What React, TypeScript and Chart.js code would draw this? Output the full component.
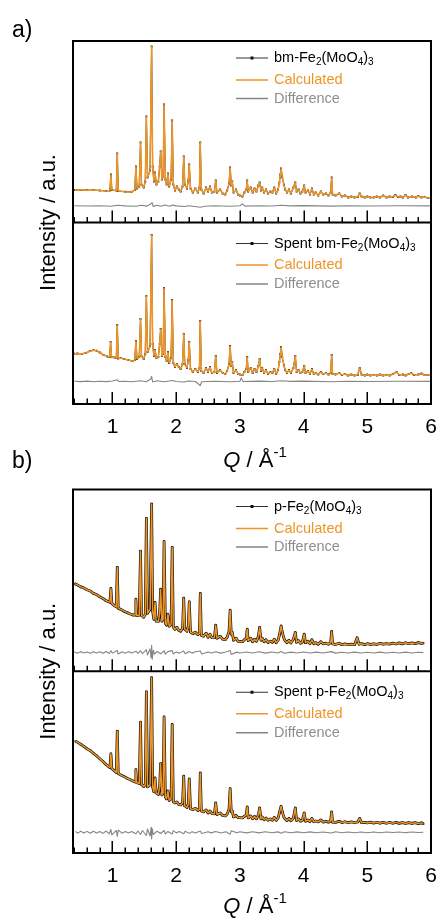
import React, { useEffect, useRef } from "react";
import { Chart, registerables } from "chart.js";

Chart.register(...registerables);

const FONT = '"Liberation Sans", Arial, Helvetica, sans-serif';

// ---- axis values ----
const Q_MIN = 0.38;
const Q_MAX = 6.0;
const majorQ = [1, 2, 3, 4, 5, 6];
const minorQ = [0.4, 0.6, 0.8, 1.2, 1.4, 1.6, 1.8, 2.2, 2.4, 2.6, 2.8, 3.2, 3.4, 3.6, 3.8, 4.2, 4.4, 4.6, 4.8, 5.2, 5.4, 5.6, 5.8];
const INT_MAX = 181.5;

// ---- legend labels (_n = subscript) ----
const labelBm = "bm-Fe_2(MoO_4)_3";
const labelSpentBm = "Spent bm-Fe_2(MoO_4)_3";
const labelP = "p-Fe_2(MoO_4)_3";
const labelSpentP = "Spent p-Fe_2(MoO_4)_3";
const labelCalc = "Calculated";
const labelDiff = "Difference";

// ---- a) bm-Fe2(MoO4)3 : observed [Q, I] ----
const obsBm: number[][] = [
  [0.40, 32.5], [0.50, 32.7], [0.60, 32.3], [0.70, 32.5], [0.80, 32.0], [0.90, 31.6], [0.96, 32.0], [0.975, 48], [0.99, 32.5],
  [1.06, 32.0], [1.075, 69], [1.09, 31.5], [1.20, 30.8], [1.30, 30.6], [1.35, 32.5], [1.367, 56], [1.385, 34], [1.42, 36],
  [1.44, 80], [1.455, 38], [1.49, 35], [1.515, 41], [1.532, 106], [1.55, 45], [1.59, 52], [1.614, 176], [1.63, 56], [1.65, 41],
  [1.668, 50], [1.69, 38], [1.72, 41], [1.74, 56], [1.756, 71], [1.775, 43], [1.795, 46], [1.81, 118], [1.83, 43], [1.85, 38],
  [1.87, 49], [1.89, 36], [1.92, 43], [1.937, 102], [1.955, 38], [1.98, 32], [2.01, 36], [2.04, 33], [2.07, 31], [2.10, 36],
  [2.118, 66], [2.135, 38], [2.17, 34], [2.19, 42], [2.205, 58], [2.225, 34], [2.26, 30], [2.30, 34], [2.34, 30], [2.365, 35],
  [2.378, 80], [2.395, 33], [2.43, 29], [2.47, 35], [2.50, 31], [2.53, 36], [2.56, 30], [2.60, 31], [2.62, 42], [2.64, 30],
  [2.69, 33], [2.73, 29], [2.77, 28], [2.80, 32], [2.83, 39], [2.847, 55], [2.865, 37], [2.88, 41], [2.90, 30], [2.94, 33],
  [2.97, 28], [3.00, 27], [3.04, 26], [3.07, 30], [3.10, 33], [3.115, 42], [3.13, 31], [3.17, 35], [3.20, 30], [3.23, 34],
  [3.26, 31], [3.29, 37], [3.31, 40], [3.33, 32], [3.35, 35], [3.38, 30], [3.41, 33], [3.44, 29], [3.48, 31], [3.51, 30],
  [3.54, 35], [3.57, 29], [3.60, 33], [3.62, 40], [3.635, 48], [3.647, 54], [3.665, 45], [3.69, 38], [3.71, 33], [3.74, 30],
  [3.77, 33], [3.80, 29], [3.84, 35], [3.87, 40], [3.89, 31], [3.92, 33], [3.95, 29], [3.98, 31], [4.01, 37], [4.03, 30],
  [4.07, 32], [4.10, 28], [4.13, 34], [4.16, 28], [4.19, 30], [4.23, 27], [4.27, 31], [4.31, 28], [4.35, 29], [4.39, 27],
  [4.425, 30], [4.44, 45], [4.455, 28], [4.50, 27], [4.56, 29], [4.60, 26], [4.65, 27], [4.70, 25], [4.75, 26], [4.80, 25],
  [4.85, 25.5], [4.88, 29], [4.91, 26], [4.96, 25], [5.00, 26], [5.05, 25], [5.10, 25], [5.15, 26], [5.20, 25], [5.25, 27],
  [5.30, 25], [5.35, 26], [5.40, 25.5], [5.44, 27.5], [5.48, 25.5], [5.52, 26], [5.56, 25], [5.60, 27.5], [5.64, 25], [5.70, 26],
  [5.76, 25], [5.80, 26.5], [5.85, 25], [5.90, 25.5], [5.95, 24.5], [6.00, 25],
];
const calcBm = obsBm;
const diffBm: number[][] = [
  [0.40, 16.7], [0.6, 16.5], [0.8, 16.8], [0.97, 16.3], [1.08, 17.2], [1.2, 16.6], [1.37, 16.2], [1.45, 17.3], [1.54, 16.4],
  [1.6, 18.5], [1.62, 20.0], [1.64, 16], [1.7, 17.3], [1.76, 16.2], [1.82, 17.5], [1.9, 16.3], [1.94, 17.4], [2.0, 16.6],
  [2.13, 16.0], [2.2, 16.8], [2.38, 15.3], [2.45, 16.3], [2.6, 16.8], [2.85, 16.2], [3.0, 16.7], [3.04, 18.5], [3.08, 16.4],
  [3.3, 16.8], [3.5, 16.5], [3.65, 17.3], [3.8, 16.6], [4.0, 16.9], [4.45, 16.4], [4.7, 16.7], [5.0, 16.5], [5.5, 16.8], [6.0, 16.6],
];

// ---- a) Spent bm-Fe2(MoO4)3 ----
const obsSpentBm: number[][] = [
  [0.40, 50.3], [0.45, 50.5], [0.52, 50.2], [0.58, 51], [0.64, 52.8], [0.70, 53.8], [0.75, 53.3], [0.80, 51.5], [0.86, 49],
  [0.92, 47.5], [0.955, 47], [0.97, 62], [0.985, 47], [1.03, 46.5], [1.06, 46], [1.075, 79], [1.09, 45.5], [1.13, 46],
  [1.18, 45], [1.25, 44], [1.32, 42.8], [1.35, 44], [1.367, 63], [1.385, 45], [1.42, 47], [1.44, 85], [1.455, 48], [1.49, 45],
  [1.515, 50], [1.532, 108], [1.55, 52], [1.59, 58], [1.614, 169], [1.63, 60], [1.65, 48], [1.668, 54], [1.69, 46], [1.72, 47],
  [1.74, 60], [1.756, 75], [1.775, 48], [1.795, 50], [1.81, 116], [1.83, 47], [1.85, 43], [1.87, 52], [1.89, 41], [1.92, 46],
  [1.937, 104], [1.955, 41], [1.98, 37], [2.01, 40], [2.04, 37], [2.07, 35], [2.10, 40], [2.118, 70], [2.135, 40], [2.17, 36],
  [2.19, 44], [2.205, 62], [2.225, 35], [2.26, 32], [2.30, 35], [2.34, 32], [2.365, 36], [2.378, 83], [2.395, 33], [2.43, 31],
  [2.47, 36], [2.50, 32], [2.53, 37], [2.56, 31], [2.60, 32], [2.62, 48], [2.64, 31], [2.69, 34], [2.73, 31], [2.77, 30],
  [2.80, 33], [2.83, 40], [2.847, 58], [2.865, 38], [2.88, 42], [2.90, 31], [2.94, 34], [2.97, 30], [3.00, 29.5], [3.04, 29],
  [3.07, 32], [3.10, 35], [3.115, 47], [3.13, 32], [3.17, 36], [3.20, 31], [3.23, 35], [3.26, 32], [3.29, 38], [3.31, 45],
  [3.33, 33], [3.35, 36], [3.38, 31], [3.41, 34], [3.44, 30], [3.48, 32], [3.51, 31], [3.54, 35], [3.57, 30], [3.60, 34],
  [3.62, 42], [3.635, 50], [3.647, 57], [3.665, 47], [3.69, 39], [3.71, 34], [3.74, 31], [3.77, 34], [3.80, 31], [3.84, 36],
  [3.87, 48], [3.89, 32], [3.92, 34], [3.95, 31], [3.98, 32], [4.01, 38], [4.03, 31], [4.07, 33], [4.10, 30], [4.13, 35],
  [4.16, 30], [4.19, 31], [4.23, 29.5], [4.27, 32], [4.31, 30], [4.35, 31], [4.39, 29.5], [4.425, 31], [4.44, 49], [4.455, 30],
  [4.50, 29.5], [4.56, 31], [4.60, 29], [4.65, 30], [4.70, 28.5], [4.75, 29.5], [4.80, 28.5], [4.85, 29], [4.88, 36], [4.91, 29.5],
  [4.96, 28.5], [5.00, 29.5], [5.05, 28.5], [5.10, 29], [5.15, 28.5], [5.20, 29.5], [5.25, 28.5], [5.30, 29], [5.35, 28.5],
  [5.40, 30], [5.46, 32], [5.50, 29], [5.56, 29.5], [5.60, 28.5], [5.65, 30], [5.69, 31], [5.73, 29], [5.80, 29.5], [5.85, 30.5],
  [5.90, 28.8], [5.95, 29.2], [6.00, 28.7],
];
const calcSpentBm = obsSpentBm;
const diffSpentBm: number[][] = [
  [0.40, 22.7], [0.5, 22.4], [0.6, 22.9], [0.7, 22.3], [0.8, 22.8], [0.9, 22.4], [1.0, 23.0], [1.075, 24.2], [1.1, 22.5],
  [1.2, 22.8], [1.3, 22.3], [1.44, 23.2], [1.53, 22.3], [1.6, 25], [1.614, 27.7], [1.63, 22], [1.7, 23.2], [1.81, 22.2],
  [1.94, 23.5], [2.0, 22.5], [2.12, 22.0], [2.2, 23], [2.3, 22.5], [2.378, 18.5], [2.4, 22.3], [2.6, 22.8], [2.85, 22.2],
  [3.0, 22.7], [3.02, 26], [3.05, 22.5], [3.3, 22.9], [3.5, 22.5], [3.65, 23.3], [3.8, 22.6], [4.0, 22.9], [4.44, 22.3],
  [4.7, 22.7], [5.0, 22.5], [5.5, 22.8], [6.0, 22.6],
];

// ---- b) p-Fe2(MoO4)3 ----
const obsP: number[][] = [
  [0.405, 87.5], [0.45, 86.2], [0.50, 84.3], [0.55, 83.2], [0.60, 81.4], [0.65, 80.2], [0.70, 77.8], [0.75, 76.6], [0.80, 74.3],
  [0.85, 72.7], [0.90, 70.4], [0.94, 69.5], [0.96, 69], [0.975, 82.7], [0.99, 67.8], [1.03, 65.5], [1.06, 64.2], [1.075, 103.7],
  [1.09, 63], [1.13, 61.8], [1.18, 60], [1.23, 58.5], [1.28, 57.2], [1.33, 56], [1.355, 56.5], [1.367, 72], [1.38, 55.5],
  [1.42, 56], [1.44, 120], [1.455, 56], [1.49, 54], [1.515, 57], [1.532, 152.7], [1.55, 58], [1.59, 62], [1.614, 167], [1.63, 60],
  [1.65, 52], [1.668, 68.7], [1.685, 50], [1.72, 50], [1.74, 58], [1.756, 82], [1.775, 50], [1.795, 52], [1.81, 129.7], [1.83, 48],
  [1.85, 46], [1.87, 57], [1.89, 45], [1.92, 47], [1.937, 123.7], [1.955, 44], [1.98, 42], [2.01, 44], [2.04, 41], [2.07, 40],
  [2.10, 43], [2.118, 73], [2.135, 42], [2.17, 40], [2.19, 45], [2.205, 69.3], [2.225, 39], [2.26, 37.5], [2.30, 39], [2.34, 36.5],
  [2.365, 38], [2.378, 77.7], [2.395, 36], [2.43, 35], [2.47, 38], [2.50, 34], [2.53, 37], [2.56, 33.5], [2.60, 33.5], [2.62, 46],
  [2.64, 33], [2.69, 35], [2.73, 32], [2.77, 31.5], [2.80, 34], [2.83, 40], [2.847, 61], [2.865, 37], [2.88, 39], [2.90, 31],
  [2.94, 33], [2.97, 30], [3.00, 29.8], [3.04, 29.5], [3.07, 31.5], [3.10, 33], [3.115, 42], [3.13, 30.5], [3.17, 33], [3.20, 29.5],
  [3.23, 32], [3.26, 30], [3.29, 35], [3.31, 43.7], [3.33, 31], [3.35, 33], [3.38, 29.5], [3.41, 31.5], [3.44, 28.8], [3.48, 30],
  [3.51, 29], [3.54, 32], [3.57, 28.5], [3.60, 31], [3.62, 36], [3.635, 41], [3.647, 45.3], [3.665, 39], [3.69, 33], [3.71, 30.5],
  [3.74, 28.5], [3.77, 31], [3.80, 28.2], [3.84, 32], [3.87, 38.7], [3.89, 29], [3.92, 30.5], [3.95, 28], [3.98, 29], [4.01, 37],
  [4.03, 28.5], [4.07, 30], [4.10, 27.5], [4.13, 31.5], [4.16, 27.5], [4.19, 28.5], [4.23, 27], [4.27, 29.5], [4.31, 27.3],
  [4.35, 28], [4.39, 27], [4.425, 28.5], [4.44, 39.7], [4.455, 27.3], [4.50, 26.8], [4.56, 28], [4.60, 26.5], [4.65, 27.3],
  [4.70, 26.5], [4.75, 27], [4.80, 26.5], [4.84, 33.5], [4.87, 27], [4.91, 27.5], [4.96, 26.6], [5.00, 27.5], [5.05, 26.8],
  [5.10, 27.4], [5.15, 26.9], [5.20, 27.8], [5.25, 27], [5.30, 27.5], [5.35, 27.1], [5.40, 28], [5.45, 27.2], [5.50, 28.3],
  [5.55, 27.4], [5.60, 28.5], [5.65, 27.5], [5.70, 28.3], [5.75, 27.6], [5.80, 28.6], [5.85, 27.9], [5.88, 28],
];
const calcP = obsP;
const diffP: number[][] = [
  [0.40, 19.5], [0.45, 18.0], [0.50, 19.6], [0.55, 18.2], [0.60, 19.3], [0.65, 17.9], [0.70, 19.5], [0.75, 18.3], [0.80, 19.4],
  [0.85, 18.0], [0.90, 19.8], [0.95, 17.8], [0.975, 20.5], [1.0, 18.1], [1.075, 20.8], [1.09, 17.2], [1.15, 19.4], [1.2, 18.0],
  [1.25, 19.6], [1.3, 18.3], [1.367, 20.0], [1.4, 17.8], [1.44, 20.5], [1.47, 17.5], [1.532, 21.5], [1.55, 16.3], [1.59, 22.5],
  [1.605, 13.5], [1.614, 26], [1.625, 12], [1.64, 21], [1.66, 17], [1.7, 19.8], [1.756, 17.4], [1.81, 20.5], [1.83, 17],
  [1.87, 19.6], [1.937, 20.6], [1.955, 17.2], [2.0, 19.3], [2.05, 18.1], [2.118, 20.2], [2.14, 17.5], [2.205, 19.8], [2.25, 18.1],
  [2.3, 19.4], [2.378, 20.3], [2.4, 17.3], [2.5, 19.3], [2.55, 18.2], [2.62, 19.5], [2.7, 18.1], [2.78, 19.3], [2.847, 20.8],
  [2.865, 16.8], [2.95, 19.1], [3.0, 18.2], [3.1, 19.3], [3.2, 18.2], [3.3, 19.4], [3.4, 18.1], [3.5, 19.2], [3.6, 18.2],
  [3.647, 19.8], [3.7, 18.0], [3.8, 19.1], [3.9, 18.3], [4.0, 19.2], [4.1, 18.2], [4.2, 19.1], [4.3, 18.3], [4.44, 19.6],
  [4.5, 18.1], [4.6, 19.0], [4.7, 18.3], [4.8, 19.1], [4.9, 18.2], [5.0, 19.0], [5.1, 18.3], [5.2, 19.1], [5.3, 18.2], [5.4, 19.0],
  [5.5, 18.3], [5.6, 19.1], [5.7, 18.2], [5.8, 19.0], [5.88, 18.6],
];

// ---- b) Spent p-Fe2(MoO4)3 ----
const obsSpentP: number[][] = [
  [0.42, 111.7], [0.46, 110.2], [0.50, 108.6], [0.55, 106.4], [0.60, 104.1], [0.65, 102.2], [0.70, 99.6], [0.75, 97.1],
  [0.80, 94.2], [0.85, 91.3], [0.90, 88.2], [0.94, 86.3], [0.96, 85.4], [0.975, 99], [0.99, 84.2], [1.03, 82], [1.06, 80.5],
  [1.075, 121.7], [1.09, 79.5], [1.13, 77.8], [1.18, 76.3], [1.23, 74.6], [1.28, 73.2], [1.33, 71.6], [1.355, 71], [1.367, 83.3],
  [1.38, 70.2], [1.42, 69.5], [1.44, 130.7], [1.455, 68.5], [1.49, 66.5], [1.515, 68], [1.532, 161], [1.55, 66], [1.59, 68],
  [1.614, 175], [1.63, 66], [1.65, 61], [1.668, 75], [1.685, 60], [1.72, 58.5], [1.74, 66], [1.756, 89.3], [1.775, 58],
  [1.795, 60], [1.81, 136], [1.83, 56], [1.85, 54], [1.87, 62], [1.89, 52.5], [1.92, 54], [1.937, 128.3], [1.955, 51], [1.98, 50],
  [2.01, 51], [2.04, 48.5], [2.07, 48], [2.10, 50], [2.118, 76.7], [2.135, 47], [2.17, 45.5], [2.19, 49], [2.205, 74], [2.225, 44],
  [2.26, 43.5], [2.30, 44.5], [2.34, 42.5], [2.365, 43.5], [2.378, 80], [2.395, 42], [2.43, 41], [2.47, 43], [2.50, 40], [2.53, 42],
  [2.56, 39.5], [2.60, 39], [2.62, 50], [2.64, 38.5], [2.69, 40], [2.73, 37.5], [2.77, 37], [2.80, 39], [2.83, 44], [2.847, 64.3],
  [2.865, 41], [2.88, 42], [2.90, 36], [2.94, 37.5], [2.97, 35.5], [3.00, 35.3], [3.04, 35], [3.07, 36.5], [3.10, 38], [3.115, 46],
  [3.13, 35], [3.17, 37], [3.20, 34.3], [3.23, 36.5], [3.26, 34.2], [3.29, 38], [3.31, 45], [3.33, 34], [3.35, 36], [3.38, 33.2],
  [3.41, 35], [3.44, 32.8], [3.48, 34], [3.51, 32.8], [3.54, 35.5], [3.57, 32.6], [3.60, 35], [3.62, 40], [3.635, 44], [3.647, 46.7],
  [3.665, 41], [3.69, 36], [3.71, 34], [3.74, 32.4], [3.77, 34.5], [3.80, 32.2], [3.84, 35], [3.87, 45], [3.89, 32.5], [3.92, 34],
  [3.95, 31.8], [3.98, 32.5], [4.01, 40], [4.03, 31.8], [4.07, 33], [4.10, 31.3], [4.13, 34.5], [4.16, 31.2], [4.19, 32], [4.23, 31],
  [4.27, 33], [4.31, 30.9], [4.35, 31.6], [4.39, 30.8], [4.425, 32], [4.44, 41], [4.455, 30.8], [4.50, 30.6], [4.56, 31.6],
  [4.60, 30.4], [4.65, 31.2], [4.70, 30.3], [4.75, 31], [4.80, 30.2], [4.85, 31], [4.88, 34.5], [4.91, 30.3], [4.96, 30.6],
  [5.00, 30], [5.05, 30.8], [5.10, 29.9], [5.15, 30.7], [5.20, 29.8], [5.25, 30.6], [5.30, 29.7], [5.35, 30.5], [5.40, 29.7],
  [5.45, 30.6], [5.50, 29.6], [5.55, 30.4], [5.60, 29.5], [5.65, 30.4], [5.70, 29.5], [5.75, 30.3], [5.80, 29.4], [5.85, 30.1], [5.88, 29.3],
];
const calcSpentP = obsSpentP;
const diffSpentP: number[][] = [
  [0.42, 21.5], [0.46, 19.8], [0.50, 21.8], [0.55, 19.9], [0.60, 21.6], [0.65, 19.7], [0.70, 21.7], [0.75, 20.0], [0.80, 21.5],
  [0.85, 19.6], [0.90, 21.9], [0.95, 19.2], [0.975, 23.5], [0.99, 18.0], [1.06, 22.5], [1.075, 16.5], [1.09, 23], [1.15, 19.8],
  [1.2, 21.5], [1.25, 20.0], [1.3, 21.4], [1.367, 19.2], [1.4, 22], [1.44, 18.5], [1.47, 22.5], [1.532, 17.5], [1.55, 24],
  [1.59, 17], [1.605, 25.5], [1.614, 14], [1.625, 24], [1.64, 18.5], [1.7, 21.8], [1.756, 19.5], [1.81, 22.5], [1.83, 18.8],
  [1.87, 21.5], [1.937, 19.0], [1.955, 22.3], [2.0, 20.1], [2.05, 21.4], [2.118, 19.3], [2.14, 21.8], [2.205, 19.6], [2.25, 21.3],
  [2.3, 20.0], [2.378, 22], [2.4, 19.5], [2.5, 21.3], [2.55, 20.1], [2.62, 21.5], [2.7, 20.0], [2.78, 21.3], [2.847, 18.8],
  [2.865, 22.2], [2.95, 20.2], [3.0, 21.2], [3.1, 20.1], [3.2, 21.2], [3.3, 20.1], [3.4, 21.2], [3.5, 20.2], [3.6, 21.1],
  [3.647, 19.8], [3.7, 21.3], [3.8, 20.2], [3.9, 21.1], [4.0, 20.3], [4.1, 21.1], [4.2, 20.2], [4.3, 21.0], [4.44, 20.0],
  [4.5, 21.2], [4.6, 20.3], [4.7, 21.0], [4.8, 20.3], [4.9, 21.0], [5.0, 20.3], [5.1, 21.0], [5.2, 20.3], [5.3, 21.0], [5.4, 20.4],
  [5.5, 21.0], [5.6, 20.3], [5.7, 20.9], [5.8, 20.4], [5.88, 20.7],
];

// ---- styles ----
const C_OBS = "#111111";
const C_CALC = "#EE9527";
const C_DIFF = "#858585";
const C_DIFF_TEXT = "#8E8E8E";

type Sub = { obs: number[][]; calc: number[][]; diff: number[][]; label: string; legendRows: number[] };
type PanelProps = {
  top: number; height: number; areaTop: number; areaBottom: number;
  letter: string; letterY: number; titleY: number; obsWidth: number; pointR: number;
  upper: Sub; lower: Sub;
};

const toXY = (arr: number[][]) => arr.map((p) => ({ x: p[0], y: p[1] }));

function drawRich(ctx: CanvasRenderingContext2D, text: string, x: number, y: number, size: number, color: string) {
  // "_d" marks a subscript digit
  ctx.fillStyle = color;
  ctx.textBaseline = "middle";
  ctx.textAlign = "left";
  let cx = x;
  let i = 0;
  let buf = "";
  const flush = () => {
    if (!buf) return;
    ctx.font = `${size}px ${FONT}`;
    ctx.fillText(buf, cx, y);
    cx += ctx.measureText(buf).width;
    buf = "";
  };
  while (i < text.length) {
    if (text[i] === "_" && i + 1 < text.length) {
      flush();
      const s = text[i + 1];
      ctx.font = `${Math.round(size * 0.68)}px ${FONT}`;
      ctx.fillText(s, cx, y + size * 0.3);
      cx += ctx.measureText(s).width;
      i += 2;
    } else {
      buf += text[i];
      i++;
    }
  }
  flush();
}

function Panel(props: PanelProps) {
  const ref = useRef<HTMLCanvasElement | null>(null);
  useEffect(() => {
    const canvas = ref.current;
    if (!canvas) return;
    const { upper, lower } = props;

    const mkSets = (s: Sub, axis: string) => [
      { data: toXY(s.calc), yAxisID: axis, borderColor: C_CALC, borderWidth: 1.5, pointRadius: 0, order: 1 },
      {
        data: toXY(s.obs), yAxisID: axis, borderColor: C_OBS, borderWidth: props.obsWidth,
        pointRadius: props.pointR, pointStyle: "rect", pointBackgroundColor: C_OBS, pointBorderWidth: 0, order: 2,
      },
      { data: toXY(s.diff), yAxisID: axis, borderColor: C_DIFF, borderWidth: 1.1, pointRadius: 0, order: 3 },
    ];

    const decor = {
      id: "decor",
      afterDatasetsDraw(chart: any) {
        const { ctx, chartArea: a, scales } = chart;
        const xs = scales.x;
        ctx.save();
        // inward ticks on the bottom edge of each sub-plot
        ctx.strokeStyle = "#000";
        ctx.lineWidth = 1.5;
        for (const id of ["yTop", "yBot"]) {
          const yb = scales[id].bottom;
          ctx.beginPath();
          for (const v of majorQ) {
            const px = Math.round(xs.getPixelForValue(v)) + 0.25;
            ctx.moveTo(px, yb);
            ctx.lineTo(px, yb - 12);
          }
          for (const v of minorQ) {
            const px = Math.round(xs.getPixelForValue(v)) + 0.25;
            ctx.moveTo(px, yb);
            ctx.lineTo(px, yb - 5.5);
          }
          ctx.stroke();
        }
        // frame + divider
        ctx.lineWidth = 2;
        ctx.strokeRect(a.left, a.top, a.right - a.left, a.bottom - a.top);
        const div = scales.yTop.bottom;
        ctx.beginPath();
        ctx.moveTo(a.left, div);
        ctx.lineTo(a.right, div);
        ctx.stroke();

        // legends
        const drawLegend = (s: Sub, topY: number) => {
          const x0 = 236, x1 = 268, tx = 274, fs = 14.5;
          const [r1, r2, r3] = s.legendRows.map((r) => topY + r);
          ctx.lineWidth = 1;
          ctx.strokeStyle = "#333";
          ctx.beginPath(); ctx.moveTo(x0, r1); ctx.lineTo(x1, r1); ctx.stroke();
          ctx.fillStyle = C_OBS;
          ctx.fillRect((x0 + x1) / 2 - 1.5, r1 - 1.5, 3, 3);
          drawRich(ctx, s.label, tx, r1, fs, "#000");
          ctx.lineWidth = 1.5;
          ctx.strokeStyle = C_CALC;
          ctx.beginPath(); ctx.moveTo(x0, r2); ctx.lineTo(x1, r2); ctx.stroke();
          drawRich(ctx, labelCalc, tx, r2, fs, C_CALC);
          ctx.strokeStyle = C_DIFF;
          ctx.beginPath(); ctx.moveTo(x0, r3); ctx.lineTo(x1, r3); ctx.stroke();
          drawRich(ctx, labelDiff, tx, r3, fs, C_DIFF_TEXT);
        };
        drawLegend(upper, scales.yTop.top);
        drawLegend(lower, scales.yBot.top);

        // y title
        ctx.save();
        ctx.translate(49, div);
        ctx.rotate(-Math.PI / 2);
        ctx.font = `22px ${FONT}`;
        ctx.fillStyle = "#000";
        ctx.textAlign = "center";
        ctx.textBaseline = "middle";
        ctx.fillText("Intensity / a.u.", 0, 0);
        ctx.restore();

        // x title: Q / Å^-1
        const ty = props.titleY;
        ctx.textBaseline = "middle";
        ctx.textAlign = "left";
        ctx.font = `italic 22px ${FONT}`;
        const wQ = ctx.measureText("Q").width;
        ctx.font = `22px ${FONT}`;
        const wMid = ctx.measureText(" / Å").width;
        ctx.font = `15px ${FONT}`;
        const wSup = ctx.measureText("-1").width;
        let tx = (a.left + a.right) / 2 + 3 - (wQ + wMid + wSup) / 2;
        ctx.fillStyle = "#000";
        ctx.font = `italic 22px ${FONT}`;
        ctx.fillText("Q", tx, ty);
        tx += wQ;
        ctx.font = `22px ${FONT}`;
        ctx.fillText(" / Å", tx, ty);
        tx += wMid;
        ctx.font = `15px ${FONT}`;
        ctx.fillText("-1", tx, ty - 8);

        // panel letter
        ctx.font = `23px ${FONT}`;
        ctx.fillText(props.letter, 12, props.letterY);
        ctx.restore();
      },
    };

    const yCommon = {
      type: "linear",
      position: "left",
      stack: "sub",
      stackWeight: 1,
      min: 0,
      max: INT_MAX,
      grid: { display: false, drawTicks: false },
      border: { display: false },
      ticks: { display: false },
      afterFit: (s: any) => { s.width = 0; s.paddingTop = 0; s.paddingBottom = 0; },
    };

    const chart = new Chart(canvas, {
      type: "line",
      data: { datasets: [...mkSets(upper, "yTop"), ...mkSets(lower, "yBot")] as any },
      options: {
        responsive: false,
        animation: false,
        events: [],
        layout: { padding: { left: 73, right: 9, top: props.areaTop, bottom: 0 } },
        elements: { line: { tension: 0, borderJoinStyle: "round" } },
        plugins: { legend: { display: false }, tooltip: { enabled: false } },
        scales: {
          x: {
            type: "linear",
            position: "bottom",
            min: Q_MIN,
            max: Q_MAX,
            grid: { display: false, drawTicks: false },
            border: { display: false },
            ticks: {
              color: "#000",
              font: { size: 21, family: FONT },
              padding: 11,
              maxRotation: 0,
              autoSkip: false,
              callback: (v: any) => String(v),
            },
            afterBuildTicks: (s: any) => { s.ticks = majorQ.map((v) => ({ value: v })); },
            afterFit: (s: any) => {
              s.height = props.height - props.areaBottom;
              s.paddingLeft = 0;
              s.paddingRight = 0;
            },
          },
          yBot: { ...yCommon, weight: 0 },
          yTop: { ...yCommon, weight: 1 },
        } as any,
      },
      plugins: [decor],
    });
    return () => chart.destroy();
  }, []);
  return (
    <div style={{ position: "absolute", left: 0, top: props.top, width: 440, height: props.height }}>
      <canvas ref={ref} width={440} height={props.height} style={{ display: "block" }} />
    </div>
  );
}

export default function App() {
  return (
    <div style={{ position: "absolute", left: 0, top: 0, width: 440, height: 919, background: "#fff", overflow: "hidden" }}>
      <Panel
        top={0} height={480} areaTop={41} areaBottom={404}
        letter="a)" letterY={31} titleY={461} obsWidth={1.1} pointR={1.3}
        upper={{ obs: obsBm, calc: calcBm, diff: diffBm, label: labelBm, legendRows: [17, 39, 57.5] }}
        lower={{ obs: obsSpentBm, calc: calcSpentBm, diff: diffSpentBm, label: labelSpentBm, legendRows: [21, 42.5, 61.5] }}
      />
      <Panel
        top={440} height={479} areaTop={49.5} areaBottom={413}
        letter="b)" letterY={22} titleY={467} obsWidth={2.8} pointR={1.4}
        upper={{ obs: obsP, calc: calcP, diff: diffP, label: labelP, legendRows: [17, 39, 57.5] }}
        lower={{ obs: obsSpentP, calc: calcSpentP, diff: diffSpentP, label: labelSpentP, legendRows: [21, 42.5, 61.5] }}
      />
    </div>
  );
}
